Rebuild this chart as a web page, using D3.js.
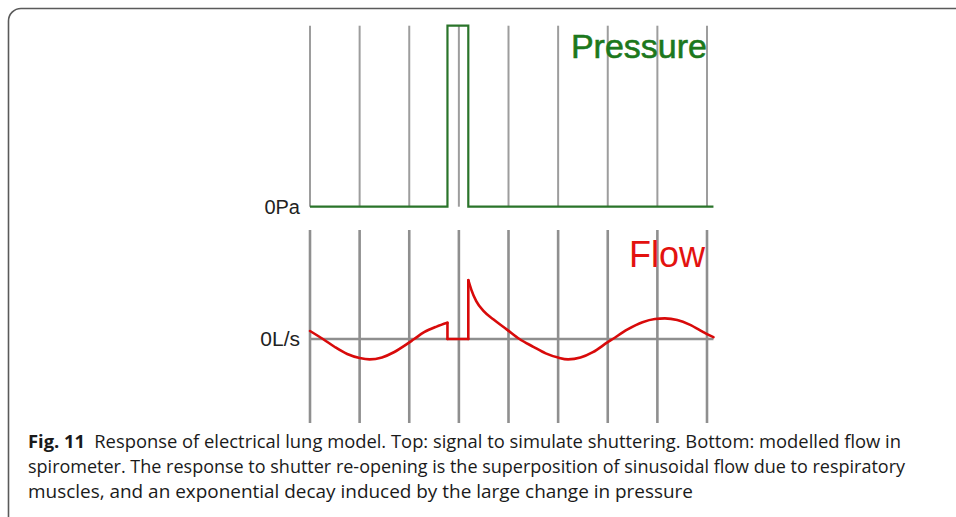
<!DOCTYPE html>
<html>
<head>
<meta charset="utf-8">
<script src="https://cdn.jsdelivr.net/npm/d3@7"></script>
<style>
  html, body { margin: 0; padding: 0; background: #fff; }
  svg { display: block; }
</style>
</head>
<body>
<svg id="fig" width="956" height="517"></svg>
<script>
// Time axis in grid divisions (one vertical rule per division)
const gridTimes = [0, 1, 2, 3, 4, 5, 6, 7, 8];

// Shutter pressure signal (step trace, 0 = open, 1 = closed)
const pressureTime  = [0, 2.77, 2.77, 3.19, 3.19, 8.13];
const pressureValue = [0, 0,    1,    1,    0,    0];

// Modelled spirometer flow (arbitrary units)
const flowTime = [
  0.00, 0.26, 0.50, 0.75, 1.00, 1.20, 1.45, 1.70, 1.95, 2.10, 2.30, 2.55, 2.77,
  2.77, 3.19,
  3.19, 3.25, 3.35, 3.50, 3.70, 3.97, 4.22, 4.50, 4.75, 5.00, 5.20, 5.45, 5.70,
  6.00, 6.10, 6.40, 6.70, 6.95, 7.15, 7.40, 7.65, 7.90, 8.00, 8.13
];
const flowValue = [
  0.40, 0.00, -0.40, -0.75, -0.95, -1.02, -0.92, -0.65, -0.26, 0.00, 0.34, 0.62, 0.81,
  0.00, 0.00,
  2.94, 2.47, 1.89, 1.39, 0.97, 0.47, 0.00, -0.39, -0.72, -0.93, -1.02, -0.93, -0.66,
  -0.16, 0.00, 0.48, 0.84, 1.00, 1.03, 0.95, 0.72, 0.38, 0.24, 0.09
];

// Axis labels and panel titles
const pressureTicks = [0];
const pressureTickLabels = ["0Pa"];
const flowTicks = [0];
const flowTickLabels = ["0L/s"];
const panelTitles = ["Pressure", "Flow"];

const captionLines = [
  [{b: true, t: "Fig. 11"}, {b: false, t: "\u2002Response of electrical lung model. Top: signal to simulate shuttering. Bottom: modelled flow in"}],
  [{b: false, t: "spirometer. The response to shutter re-opening is the superposition of sinusoidal flow due to respiratory"}],
  [{b: false, t: "muscles, and an exponential decay induced by the large change in pressure"}]
];

const svg = d3.select("#fig");

// Card frame with rounded top-left corner
svg.append("path")
  .attr("d", "M8.5,540 V21 A12.5,12.5 0 0 1 21,8.5 H960")
  .attr("fill", "none")
  .attr("stroke", "#5a5a5a")
  .attr("stroke-width", 1.6);

const x = d3.scaleLinear().domain([0, 8]).range([310, 707]);
const yP = d3.scaleLinear().domain([0, 1]).range([206.7, 25.7]);
const yF = d3.scaleLinear().domain([-4.2, 5.45]).range([423, 230]);

const green = "#2a742a";
const red = "#d80a0a";
const gridTop = "#9d9d9d";
const gridBot = "#8f8f8f";

// ---- Top panel: pressure ----
const gTop = svg.append("g");
gTop.selectAll("line.grid")
  .data(gridTimes)
  .join("line")
  .attr("class", "grid")
  .attr("x1", d => x(d)).attr("x2", d => x(d))
  .attr("y1", yP(1)).attr("y2", yP(0))
  .attr("stroke", gridTop)
  .attr("stroke-width", 2);

const pressurePts = pressureTime.map((t, i) => [t, pressureValue[i]]);
gTop.append("path")
  .datum(pressurePts)
  .attr("d", d3.line().x(d => x(d[0])).y(d => yP(d[1])))
  .attr("fill", "none")
  .attr("stroke", green)
  .attr("stroke-width", 2.2);

const axP = d3.axisLeft(yP)
  .tickValues(pressureTicks)
  .tickFormat((d, i) => pressureTickLabels[i])
  .tickSize(0)
  .tickPadding(10);
gTop.append("g")
  .attr("transform", `translate(${x(0)},0)`)
  .call(axP)
  .call(g => g.select(".domain").remove())
  .call(g => g.selectAll("text")
    .attr("font-family", "'Liberation Sans', Arial, sans-serif")
    .attr("font-size", 20)
    .attr("fill", "#222"));

gTop.append("text")
  .attr("x", 707).attr("y", 58)
  .attr("text-anchor", "end")
  .attr("font-family", "'Liberation Sans', Arial, sans-serif")
  .attr("font-size", 34)
  .attr("fill", "#1c781c")
  .attr("stroke", "#1c781c")
  .attr("stroke-width", 0.6)
  .text(panelTitles[0]);

// ---- Bottom panel: flow ----
const gBot = svg.append("g");
gBot.selectAll("line.grid")
  .data(gridTimes)
  .join("line")
  .attr("class", "grid")
  .attr("x1", d => x(d)).attr("x2", d => x(d))
  .attr("y1", yF.range()[1]).attr("y2", yF.range()[0])
  .attr("stroke", gridBot)
  .attr("stroke-width", 2.6);

gBot.append("line")
  .attr("x1", x(0)).attr("x2", x(8.13))
  .attr("y1", yF(0)).attr("y2", yF(0))
  .attr("stroke", gridBot)
  .attr("stroke-width", 2.6);

// Split the flow trace where time repeats (instantaneous steps)
const flowPts = flowTime.map((t, i) => [t, flowValue[i]]);
const segments = [];
flowPts.forEach((p, i) => {
  if (i === 0 || p[0] === flowPts[i - 1][0]) segments.push([p]);
  else segments[segments.length - 1].push(p);
});

const smooth = d3.line().x(d => x(d[0])).y(d => yF(d[1])).curve(d3.curveMonotoneX);
const straight = d3.line().x(d => x(d[0])).y(d => yF(d[1]));

gBot.selectAll("path.seg")
  .data(segments)
  .join("path")
  .attr("class", "seg")
  .attr("d", d => smooth(d))
  .attr("fill", "none")
  .attr("stroke", red)
  .attr("stroke-width", 2.6)
  .attr("stroke-linecap", "round");

// Vertical steps joining the segments
const steps = segments.slice(1).map((s, i) => {
  const prev = segments[i];
  return [prev[prev.length - 1], s[0]];
});
gBot.selectAll("path.step")
  .data(steps)
  .join("path")
  .attr("class", "step")
  .attr("d", d => straight(d))
  .attr("fill", "none")
  .attr("stroke", red)
  .attr("stroke-width", 2.6)
  .attr("stroke-linecap", "round");

const axF = d3.axisLeft(yF)
  .tickValues(flowTicks)
  .tickFormat((d, i) => flowTickLabels[i])
  .tickSize(0)
  .tickPadding(10);
gBot.append("g")
  .attr("transform", `translate(${x(0)},0)`)
  .call(axF)
  .call(g => g.select(".domain").remove())
  .call(g => g.selectAll("text")
    .attr("font-family", "'Liberation Sans', Arial, sans-serif")
    .attr("font-size", 21)
    .attr("fill", "#222"));

gBot.append("text")
  .attr("x", 705).attr("y", 267)
  .attr("text-anchor", "end")
  .attr("font-family", "'Liberation Sans', Arial, sans-serif")
  .attr("font-size", 36)
  .attr("fill", "#e3120f")
  .text(panelTitles[1]);

// ---- Caption ----
const capWidths = [873, 877, 665];
const cap = svg.append("g")
  .attr("font-family", "'Open Sans', sans-serif")
  .attr("font-size", 18)
  .attr("fill", "#1a1a1a");
captionLines.forEach((line, i) => {
  const txt = cap.append("text")
    .attr("x", 28)
    .attr("y", 448 + i * 25)
    .attr("textLength", capWidths[i])
    .attr("lengthAdjust", "spacingAndGlyphs");
  line.forEach(part => {
    txt.append("tspan")
      .attr("font-weight", part.b ? "bold" : "normal")
      .text(part.t);
  });
});
</script>
</body>
</html>
